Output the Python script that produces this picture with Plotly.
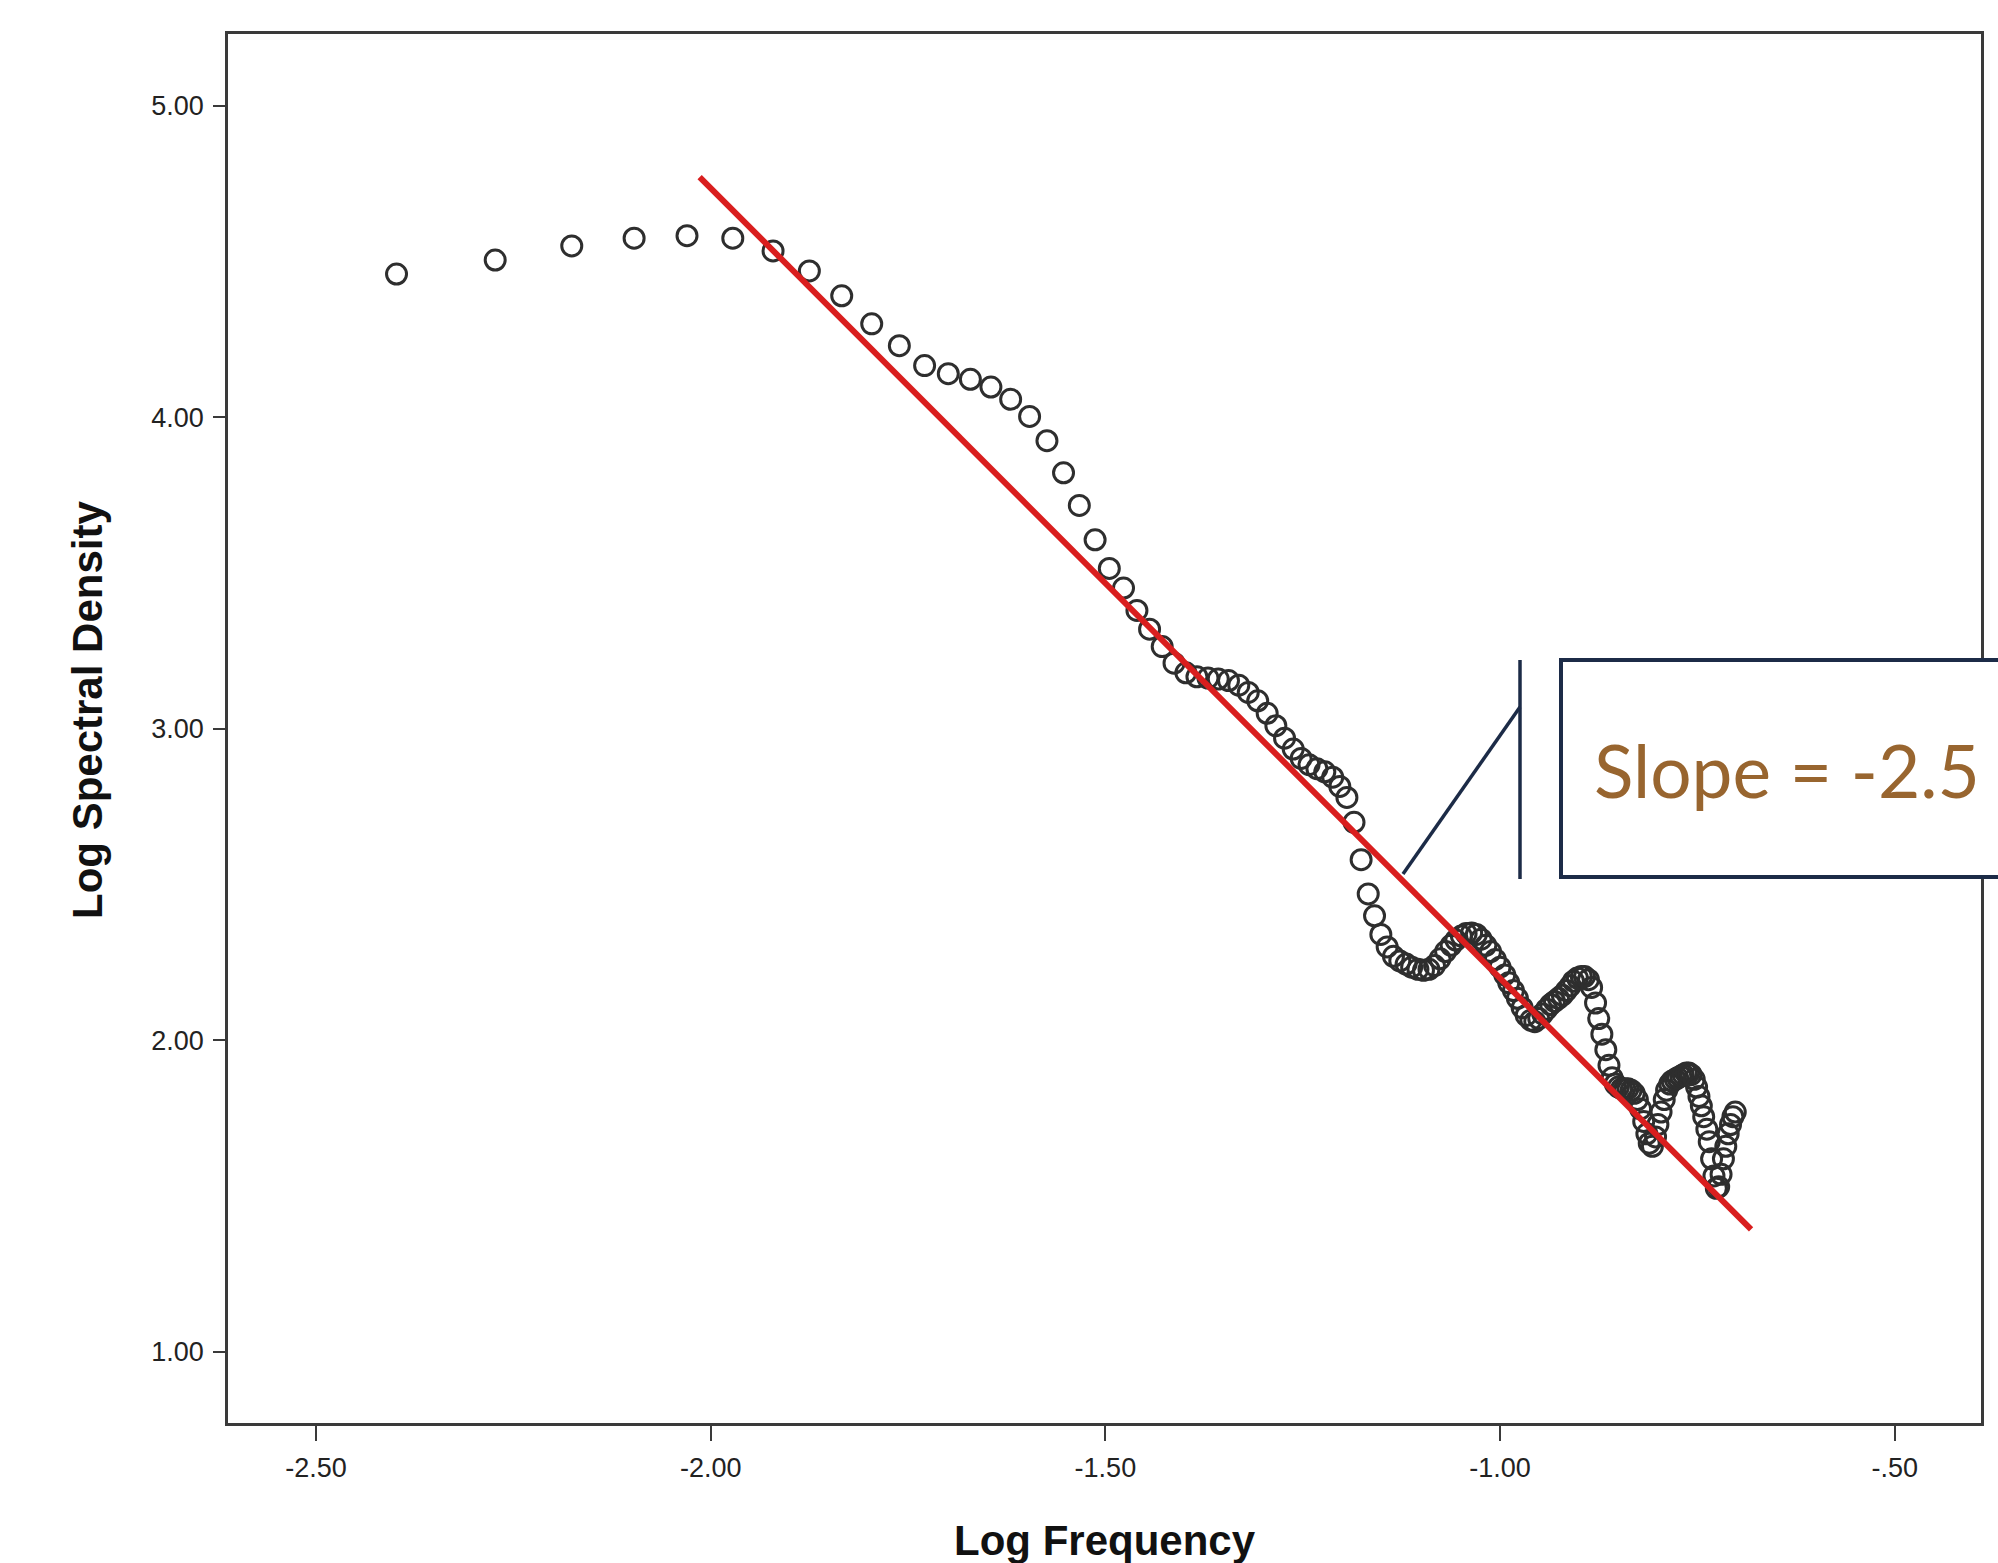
import plotly.graph_objects as go

# Log frequency (x) and log spectral density (y)
log_freq = [
    -2.398, -2.273, -2.176, -2.097, -2.030, -1.972, -1.921, -1.875, -1.834, -1.796,
    -1.761, -1.729, -1.699, -1.671, -1.645, -1.620, -1.596, -1.574, -1.553, -1.533,
    -1.513, -1.495, -1.477, -1.460, -1.444, -1.428, -1.413, -1.398, -1.384, -1.370,
    -1.357, -1.344, -1.331, -1.319, -1.307, -1.295, -1.284, -1.273, -1.262, -1.252,
    -1.242, -1.232, -1.222, -1.212, -1.203, -1.194, -1.185, -1.176, -1.167, -1.159,
    -1.151, -1.143, -1.135, -1.127, -1.119, -1.112, -1.104, -1.097, -1.090, -1.083,
    -1.076, -1.069, -1.062, -1.056, -1.049, -1.043, -1.036, -1.030, -1.024, -1.018,
    -1.012, -1.006, -1.000, -0.994, -0.989, -0.983, -0.978, -0.972, -0.967, -0.961,
    -0.956, -0.951, -0.946, -0.941, -0.936, -0.931, -0.926, -0.921, -0.916, -0.911,
    -0.907, -0.902, -0.897, -0.893, -0.888, -0.884, -0.879, -0.875, -0.871, -0.866,
    -0.862, -0.858, -0.854, -0.850, -0.846, -0.842, -0.838, -0.834, -0.830, -0.826,
    -0.822, -0.818, -0.814, -0.811, -0.807, -0.803, -0.800, -0.796, -0.792, -0.789,
    -0.785, -0.782, -0.778, -0.775, -0.771, -0.768, -0.764, -0.761, -0.758, -0.754,
    -0.751, -0.748, -0.745, -0.742, -0.738, -0.735, -0.732, -0.729, -0.726, -0.723,
    -0.720, -0.717, -0.714, -0.711, -0.708, -0.705, -0.702,
]
log_density = [
    4.460, 4.505, 4.550, 4.575, 4.583, 4.575, 4.534, 4.470, 4.390, 4.300,
    4.230, 4.166, 4.140, 4.122, 4.097, 4.058, 4.003, 3.925, 3.822, 3.717,
    3.607, 3.515, 3.452, 3.380, 3.320, 3.264, 3.211, 3.180, 3.167, 3.163,
    3.160, 3.155, 3.140, 3.117, 3.090, 3.050, 3.010, 2.970, 2.935, 2.905,
    2.885, 2.872, 2.862, 2.845, 2.815, 2.780, 2.700, 2.580, 2.470, 2.400,
    2.340, 2.300, 2.270, 2.255, 2.245, 2.235, 2.228, 2.225, 2.228, 2.240,
    2.262, 2.285, 2.305, 2.322, 2.335, 2.343, 2.345, 2.340, 2.325, 2.305,
    2.285, 2.260, 2.235, 2.210, 2.185, 2.160, 2.135, 2.105, 2.080, 2.065,
    2.060, 2.070, 2.085, 2.100, 2.115, 2.125, 2.135, 2.145, 2.160, 2.175,
    2.190, 2.200, 2.205, 2.205, 2.195, 2.170, 2.120, 2.070, 2.020, 1.970,
    1.920, 1.880, 1.860, 1.850, 1.845, 1.845, 1.845, 1.840, 1.830, 1.810,
    1.780, 1.740, 1.700, 1.670, 1.660, 1.690, 1.730, 1.770, 1.810, 1.840,
    1.860, 1.870, 1.875, 1.880, 1.885, 1.890, 1.895, 1.895, 1.890, 1.875,
    1.850, 1.820, 1.790, 1.755, 1.715, 1.675, 1.620, 1.565, 1.525, 1.530,
    1.570, 1.620, 1.660, 1.700, 1.730, 1.755, 1.770,
]

# Fitted regression line (slope about -2.5) endpoints
fit_x = [-2.014, -0.682]
fit_y = [4.771, 1.393]

x_tick_vals = [-2.5, -2.0, -1.5, -1.0, -0.5]
x_tick_text = ["-2.50", "-2.00", "-1.50", "-1.00", "-.50"]
y_tick_vals = [1, 2, 3, 4, 5]
y_tick_text = ["1.00", "2.00", "3.00", "4.00", "5.00"]

callout_text = "Slope = -2.5"

W, H = 1998, 1563
ML, MR, MT, MB = 228, 17, 34, 140
PW, PH = W - ML - MR, H - MT - MB


def px(xp):
    return (xp - ML) / PW


def py(yp):
    return (H - MB - yp) / PH


fig = go.Figure()
fig.add_trace(go.Scatter(
    x=log_freq, y=log_density, mode="markers",
    marker=dict(symbol="circle-open", size=20, color="#2e2e2e",
                line=dict(width=3, color="#2e2e2e")),
    showlegend=False, hoverinfo="x+y",
))
fig.add_trace(go.Scatter(
    x=fit_x, y=fit_y, mode="lines",
    line=dict(color="#d91e1e", width=6),
    showlegend=False,
))

axis_common = dict(
    showgrid=False, zeroline=False, showline=True, mirror=True,
    linecolor="#3a3a3a", linewidth=2.5, ticks="outside", tickcolor="#3a3a3a",
    tickwidth=2, tickfont=dict(family="Liberation Sans, Arial", size=27, color="#222222"),
)
fig.update_xaxes(range=[-2.6115, -0.3907], tickvals=x_tick_vals, ticktext=x_tick_text,
                 ticklen=15, ticklabelstandoff=4, **axis_common)
fig.update_yaxes(range=[0.7718, 5.2305], tickvals=y_tick_vals, ticktext=y_tick_text,
                 ticklen=12, ticklabelstandoff=4, **axis_common)

title_font = dict(family="Liberation Sans, Arial", size=42, color="#111111")
annotations = [
    dict(text="<b>Log Frequency</b>", xref="paper", yref="paper",
         x=px(1105), y=py(1540), xanchor="center", yanchor="middle",
         showarrow=False, font=title_font),
    dict(text="<b>Log Spectral Density</b>", xref="paper", yref="paper",
         x=px(87), y=py(710), xanchor="center", yanchor="middle",
         textangle=-90, showarrow=False, font=title_font),
    dict(text=callout_text, xref="paper", yref="paper",
         x=px(1592), y=py(770), xanchor="left", yanchor="middle",
         showarrow=False, font=dict(family="Lato, Open Sans", size=73, color="#98652f")),
]

navy = "#1c2b47"
shapes = [
    dict(type="rect", xref="paper", yref="paper",
         x0=px(1561), x1=px(2040), y0=py(877), y1=py(660),
         line=dict(color=navy, width=4), fillcolor="white", layer="above"),
    dict(type="line", xref="paper", yref="paper",
         x0=px(1520), x1=px(1520), y0=py(660), y1=py(879),
         line=dict(color=navy, width=3.5), layer="above"),
    dict(type="line", xref="paper", yref="paper",
         x0=px(1520), x1=px(1403), y0=py(707), y1=py(874),
         line=dict(color=navy, width=3.5), layer="above"),
]

fig.update_layout(
    width=W, height=H, margin=dict(l=ML, r=MR, t=MT, b=MB, autoexpand=False),
    paper_bgcolor="white", plot_bgcolor="white",
    annotations=annotations, shapes=shapes,
)

fig.write_html("out.html")
